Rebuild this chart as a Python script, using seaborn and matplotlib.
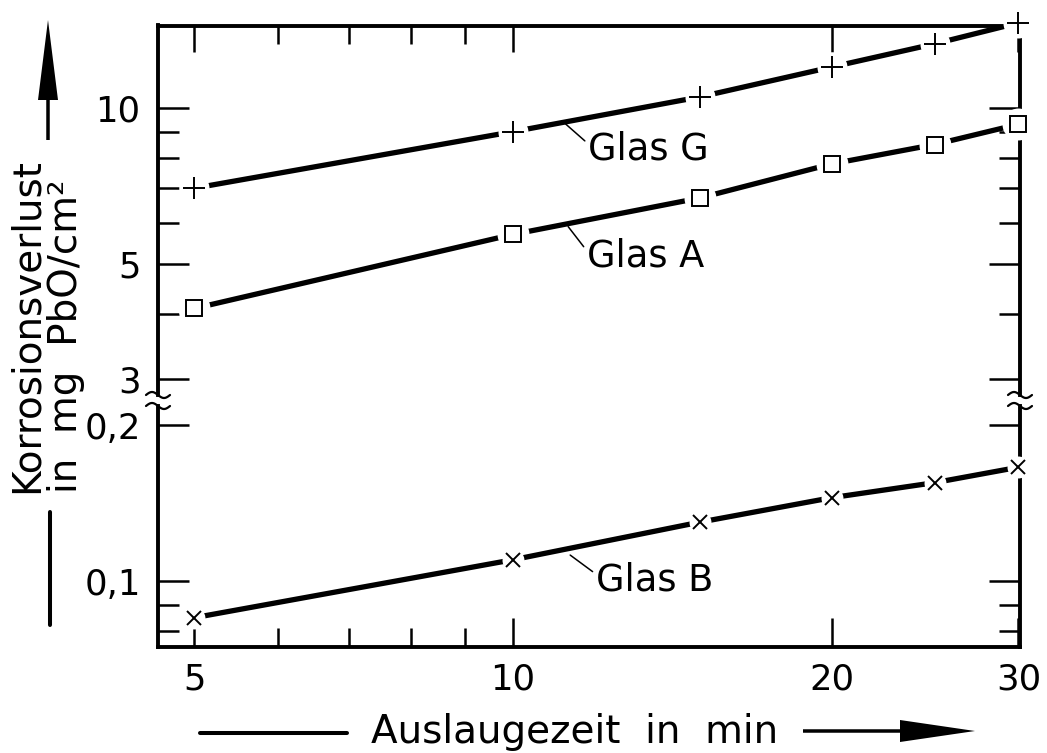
import numpy as np
import pandas as pd
import matplotlib
matplotlib.use("Agg")
import matplotlib.pyplot as plt
import seaborn as sns
from matplotlib.transforms import Affine2D
from matplotlib.patches import FancyArrow
from matplotlib.lines import Line2D
from matplotlib.ticker import FixedLocator, FixedFormatter, NullFormatter

# ---- data -------------------------------------------------------------
time_min = [5, 10, 15, 20, 25, 30]
glas_g = [7.0, 9.0, 10.5, 12.0, 13.3, 14.6]
glas_a = [4.1, 5.7, 6.7, 7.8, 8.5, 9.3]
glas_b = [0.085, 0.110, 0.130, 0.145, 0.155, 0.166]

x_major = [5, 10, 20, 30]
x_major_labels = ["5", "10", "20", "30"]
x_minor = [6, 7, 8, 9]

y_up_major = [3, 5, 10]
y_up_labels = ["3", "5", "10"]
y_up_minor = [4, 6, 7, 8, 9]

y_lo_major = [0.1, 0.2]
y_lo_labels = ["0,1", "0,2"]
y_lo_minor = [0.08, 0.09]

# ---- style ------------------------------------------------------------
sns.set_theme(style="ticks", rc={
    "axes.edgecolor": "black", "text.color": "black",
    "xtick.color": "black", "ytick.color": "black",
    "axes.labelcolor": "black",
})
plt.rcParams["font.family"] = ["DejaVu Sans"]

W, H = 1047, 753
fig = plt.figure(figsize=(W / 100, H / 100), dpi=100)
px = Affine2D().scale(1 / W, 1 / H) + fig.transFigure  # pixel units, origin bottom-left


def fy(y):
    return 1 - y / H


left, right = 158 / W, 1020 / W
ax_up = fig.add_axes([left, fy(395), right - left, fy(25.5) - fy(395)])
ax_lo = fig.add_axes([left, fy(647), right - left, fy(406) - fy(647)])

LW = 3.8
TICK_FS = 25.5
series = [
    (ax_up, glas_g, "+", 16, 21.6),
    (ax_up, glas_a, "s", 12, 23.0),
    (ax_lo, glas_b, "x", 10, 15.8),
]
for ax, vals, mk, ms, gap in series:
    sns.lineplot(x=time_min, y=vals, ax=ax, color="black", lw=LW, zorder=3,
                 solid_capstyle="butt")
    # white discs open a gap in the line (and frame) around each point
    ax.plot(time_min, vals, ls="none", marker="o", ms=gap, mfc="white",
            mec="none", zorder=4, clip_on=False)
    ax.plot(time_min, vals, ls="none", marker=mk, ms=ms, mfc="white",
            mec="black", mew=1.4, zorder=5, clip_on=False)

for ax in (ax_up, ax_lo):
    ax.set_xscale("log")
    ax.set_yscale("log")
    ax.set_xlim(4.62, 30.1)
    ax.xaxis.set_major_locator(FixedLocator(x_major))
    ax.xaxis.set_major_formatter(FixedFormatter(x_major_labels))
    ax.xaxis.set_minor_locator(FixedLocator(x_minor))
    ax.xaxis.set_minor_formatter(NullFormatter())
    ax.set_xlabel("")
    ax.set_ylabel("")
    for s in ax.spines.values():
        s.set_linewidth(2.8)
        s.set_color("black")
    ax.tick_params(axis="y", which="major", direction="in", left=True, right=True,
                   length=22, width=1.8, labelsize=TICK_FS, pad=12.5)
    ax.tick_params(axis="y", which="minor", direction="in", left=True, right=True,
                   length=15, width=1.8)

ax_up.set_ylim(2.79, 14.43)
ax_up.yaxis.set_major_locator(FixedLocator(y_up_major))
ax_up.yaxis.set_major_formatter(FixedFormatter(y_up_labels))
ax_up.yaxis.set_minor_locator(FixedLocator(y_up_minor))
ax_up.yaxis.set_minor_formatter(NullFormatter())
ax_up.spines["bottom"].set_visible(False)
ax_up.tick_params(axis="x", which="major", direction="in", top=True, bottom=False,
                  labelbottom=False, length=19, width=1.8)
ax_up.tick_params(axis="x", which="minor", direction="in", top=True, bottom=False,
                  length=13, width=1.8)

ax_lo.set_ylim(0.0746, 0.218)
ax_lo.yaxis.set_major_locator(FixedLocator(y_lo_major))
ax_lo.yaxis.set_major_formatter(FixedFormatter(y_lo_labels))
ax_lo.yaxis.set_minor_locator(FixedLocator(y_lo_minor))
ax_lo.yaxis.set_minor_formatter(NullFormatter())
ax_lo.spines["top"].set_visible(False)
ax_lo.tick_params(axis="x", which="major", direction="in", top=False, bottom=True,
                  length=21, width=1.8, labelsize=TICK_FS, pad=11.5)
ax_lo.tick_params(axis="x", which="minor", direction="in", top=False, bottom=True,
                  length=14, width=1.8)

# ---- curve labels with leader lines ----------------------------------
lead = dict(arrowstyle="-", color="black", lw=1.1, shrinkA=0, shrinkB=0,
            relpos=(0.0, 0.65))
ax_up.annotate("Glas G", xy=(11.15, 9.40), xytext=(11.77, 7.94), textcoords="data",
               fontsize=26.5, ha="left", va="baseline", arrowprops=lead)
ax_up.annotate("Glas A", xy=(11.27, 5.90), xytext=(11.74, 4.93), textcoords="data",
               fontsize=26.5, ha="left", va="baseline", arrowprops=lead)
ax_lo.annotate("Glas B", xy=(11.32, 0.1123), xytext=(11.97, 0.0961), textcoords="data",
               fontsize=26.5, ha="left", va="baseline", arrowprops=lead)

# ---- axis break marks on both side spines ----------------------------
t = np.linspace(-12, 12, 40)
for xs in (158, 1020):
    for yb in (395, 406):
        fig.add_artist(Line2D(xs + t, H - yb - 3 * np.sin(np.pi * t / 12),
                              transform=px, color="black", lw=1.6))

# ---- axis titles with arrows -----------------------------------------
fig.text(575, H - 743, "Auslaugezeit  in  min", transform=px, fontsize=28,
         ha="center", va="baseline")
fig.add_artist(Line2D([200, 347], [H - 733, H - 733], transform=px,
                      color="black", lw=2.9))
fig.add_artist(FancyArrow(803, H - 731, 172, 0, width=3.5, head_width=22,
                          head_length=75, length_includes_head=True,
                          transform=px, color="black", lw=0))

fig.text(38, H - 493, "Korrosionsverlust", transform=px, fontsize=28,
         rotation=90, rotation_mode="anchor", ha="left", va="baseline")
fig.text(77, H - 493, "in  mg  PbO/cm²", transform=px, fontsize=28,
         rotation=90, rotation_mode="anchor", ha="left", va="baseline")
fig.add_artist(FancyArrow(48, H - 140, 0, 120, width=3.5, head_width=20,
                          head_length=80, length_includes_head=True,
                          transform=px, color="black", lw=0))
fig.add_artist(Line2D([50, 50], [H - 512, H - 625], transform=px,
                      color="black", lw=2.9))

fig.savefig("out.png", dpi=100, facecolor="white")
